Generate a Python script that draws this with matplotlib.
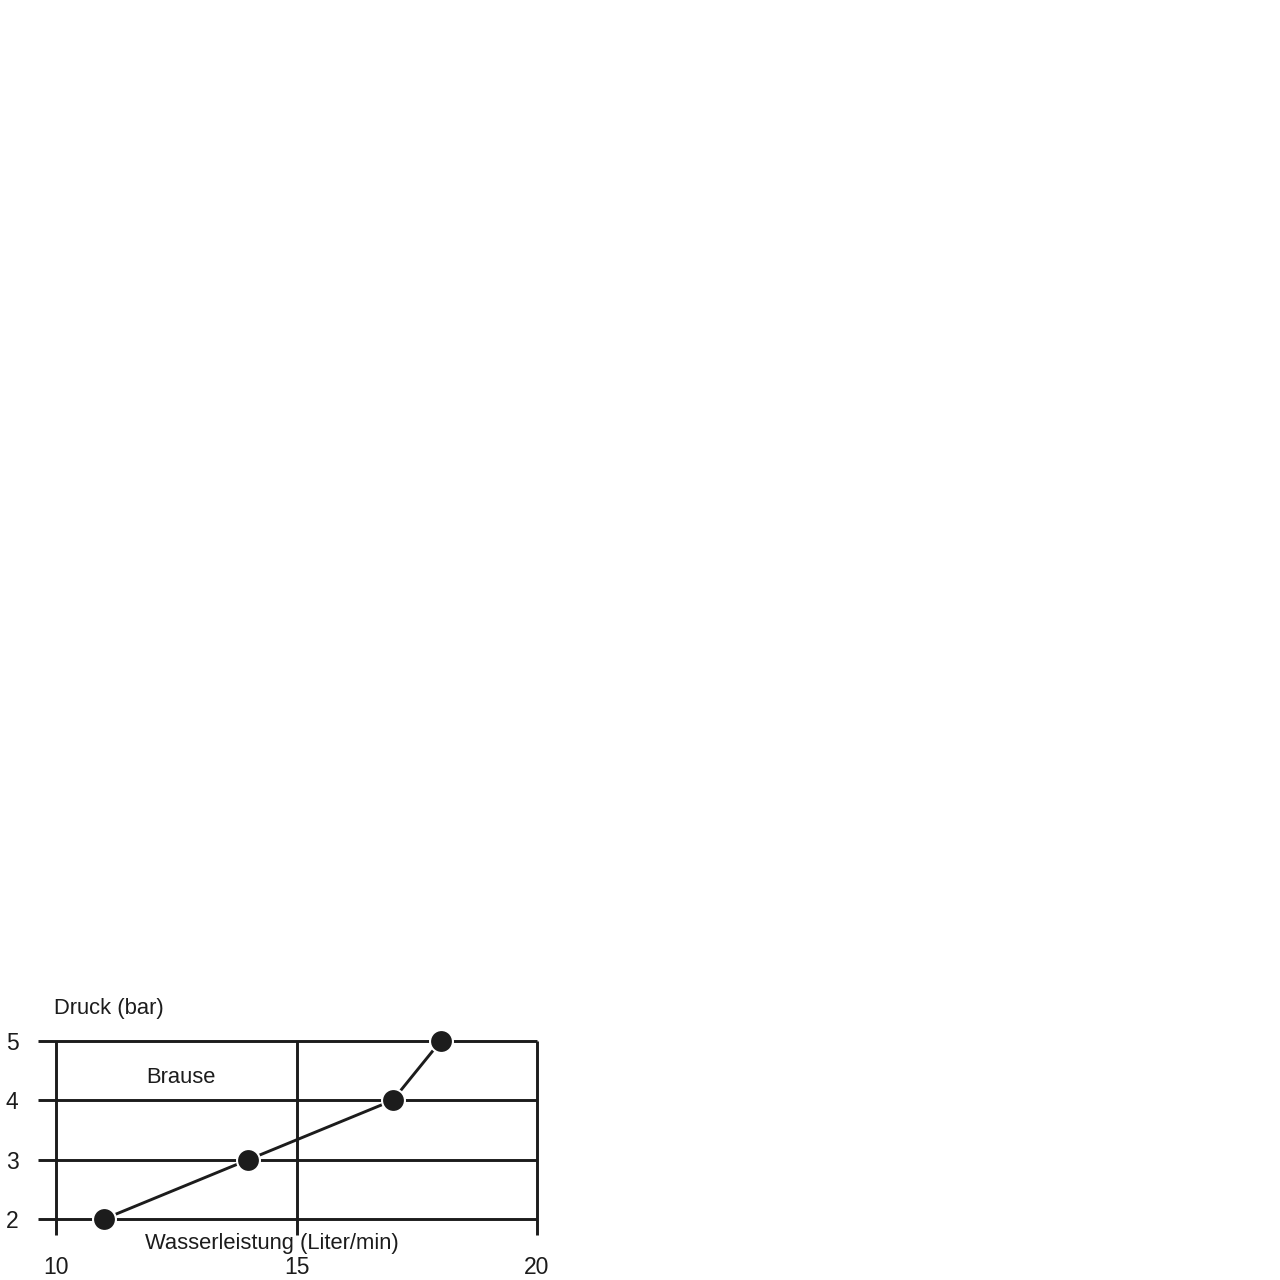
import matplotlib
matplotlib.use("Agg")
import matplotlib.pyplot as plt

plt.rcParams['font.family'] = ['Liberation Sans', 'DejaVu Sans']

# Daten: Wasserleistung vs. Druck (Brause)
flow = [11, 14, 17, 18]
pressure = [2, 3, 4, 5]
x_ticks = [10, 15, 20]
y_ticks = [2, 3, 4, 5]

ink = '#1c1c1c'

fig = plt.figure(figsize=(12.8, 12.8), dpi=100)
W = H = 1280
# Achsenbereich in Pixeln (links, oben, rechts, unten)
px_l, px_t, px_r, px_b = 38, 1035, 540, 1237
ax = fig.add_axes([px_l / W, 1 - px_b / H, (px_r - px_l) / W, (px_b - px_t) / H])

ax.set_xlim(10 - 18 / 48.1, 20 + 3 / 48.1)
ax.set_ylim(2 - 18 / 59.33, 5 + 6 / 59.33)

# Gitterlinien
ax.hlines(y_ticks, 10 - 18 / 48.1, 20, color=ink, lw=2.1, zorder=1)
ax.vlines(x_ticks, 2 - 16 / 59.33, 5, color=ink, lw=2.1, zorder=1)

# Kennlinie
ax.plot(flow, pressure, color=ink, lw=2.1, marker='o', ms=16.5,
        mfc=ink, mec='white', mew=1.5, zorder=3, clip_on=False)

for s in ax.spines.values():
    s.set_visible(False)
ax.set_xticks(x_ticks)
ax.set_yticks(y_ticks)
ax.tick_params(length=0, labelsize=16.5, colors=ink)
ax.tick_params(axis='x', pad=14)
ax.tick_params(axis='y', pad=14)

ax.text(9.96, 5.55, 'Druck (bar)', fontsize=15.8, color=ink, va='center', ha='left', clip_on=False)
ax.text(11.87, 4.39, 'Brause', fontsize=15.8, color=ink, va='center', ha='left')
ax.text(11.85, 1.58, 'Wasserleistung (Liter/min)', fontsize=15.8, color=ink,
        va='center', ha='left', clip_on=False)

fig.savefig('out.png', dpi=100, facecolor='white')
